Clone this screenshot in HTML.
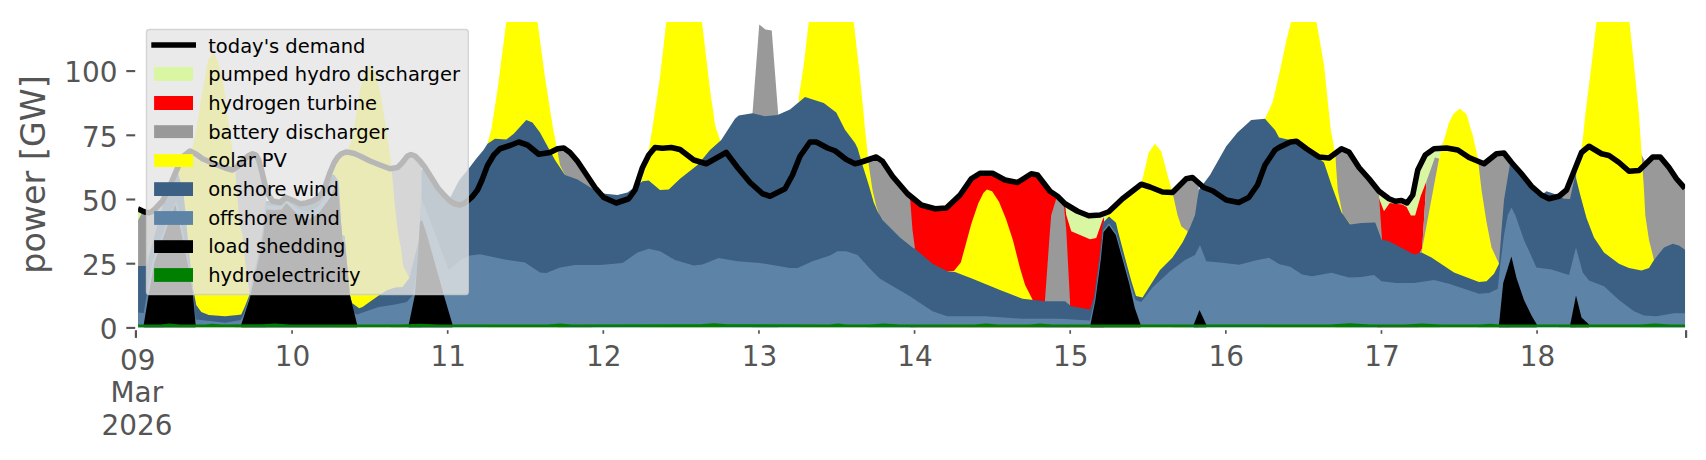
<!DOCTYPE html>
<html lang="en">
<head>
<meta charset="utf-8">
<title>power dispatch</title>
<style>
html,body{margin:0;padding:0;background:#ffffff;}
body{width:1706px;height:460px;overflow:hidden;}
svg{display:block;}
text{font-family:"DejaVu Sans","Liberation Sans",sans-serif;}
.tk{font-size:27.9px;fill:#555555;}
.yl{font-size:33.33px;fill:#555555;}
.lg{font-size:19.5px;fill:#000000;}
</style>
</head>
<body>
<svg width="1706" height="460" viewBox="0 0 1706 460">
<defs><clipPath id="ax"><rect x="138.1" y="22.0" width="1547.0" height="307.6"/></clipPath></defs>
<rect x="0" y="0" width="1706" height="460" fill="#ffffff"/>
<g clip-path="url(#ax)">
<polygon points="137.80,208.80 142.00,210.80 142.00,213.00 142.00,327.20 137.80,327.20" fill="#d9f7a3"/>
<polygon points="1065.00,203.75 1077.50,211.25 1088.75,215.75 1100.00,215.00 1106.00,213.00 1106.00,327.20 1065.00,327.20" fill="#d9f7a3"/>
<polygon points="1377.00,190.00 1379.00,191.25 1389.00,198.75 1395.25,201.25 1401.50,200.50 1407.00,203.00 1412.75,195.00 1417.75,170.00 1425.25,155.00 1434.00,148.75 1439.00,148.50 1444.00,140.00 1439.00,158.75 1439.00,327.20 1377.00,327.20" fill="#d9f7a3"/>
<polygon points="910.00,197.50 921.25,205.00 935.00,208.75 946.25,208.00 960.00,195.00 971.25,178.75 980.00,173.25 992.50,173.25 1005.00,180.00 1017.50,182.50 1031.25,173.75 1037.50,175.00 1050.00,191.25 1057.50,196.25 1065.00,203.75 1066.25,215.00 1071.25,231.25 1090.00,239.25 1096.25,238.00 1102.50,220.00 1104.00,217.00 1104.00,327.20 910.00,327.20" fill="#ff0000"/>
<polygon points="1377.00,195.00 1378.50,197.00 1384.00,211.30 1389.70,203.00 1395.25,203.75 1402.40,204.50 1406.60,207.00 1410.90,215.50 1415.10,215.50 1420.80,195.80 1426.40,181.60 1422.20,248.00 1419.40,253.70 1419.40,327.20 1377.00,327.20" fill="#ff0000"/>
<polygon points="137.80,220.50 141.90,213.20 146.00,212.30 149.00,212.80 152.00,211.50 155.00,209.00 162.50,201.00 163.40,200.00 163.40,327.20 137.80,327.20" fill="#999999"/>
<polygon points="235.00,169.00 237.00,167.00 242.50,161.00 248.00,156.00 252.50,153.75 256.00,155.00 258.75,160.00 262.00,172.00 265.00,185.00 266.00,196.00 266.00,327.20 235.00,327.20" fill="#999999"/>
<polygon points="391.00,168.50 397.50,167.50 402.00,163.00 407.50,156.00 411.00,154.50 415.00,156.00 420.00,161.00 421.25,163.00 421.25,327.20 391.00,327.20" fill="#999999"/>
<polygon points="557.50,148.75 563.75,148.00 570.00,152.50 577.50,161.25 585.00,172.50 592.50,186.00 592.50,327.20 557.50,327.20" fill="#999999"/>
<polygon points="752.50,113.00 759.25,24.50 765.50,29.50 771.75,30.50 778.25,115.00 778.25,327.20 752.50,327.20" fill="#999999"/>
<polygon points="867.50,159.50 876.25,157.00 882.50,161.25 892.50,176.25 907.50,193.75 910.00,197.50 912.50,230.00 915.00,248.75 915.00,327.20 867.50,327.20" fill="#999999"/>
<polygon points="1045.00,300.00 1050.00,230.00 1051.25,215.00 1056.25,198.75 1057.50,196.25 1063.75,203.00 1066.25,229.75 1070.00,301.25 1070.00,327.20 1045.00,327.20" fill="#999999"/>
<polygon points="1172.50,192.50 1186.25,178.75 1192.50,177.50 1198.75,184.00 1198.75,327.20 1172.50,327.20" fill="#999999"/>
<polygon points="1335.25,153.50 1341.50,148.75 1349.00,152.00 1359.00,167.50 1369.00,178.75 1376.50,188.50 1379.00,195.00 1382.00,239.50 1382.00,327.20 1335.25,327.20" fill="#999999"/>
<polygon points="1419.40,253.70 1422.20,248.00 1426.40,181.60 1434.90,157.60 1440.50,159.00 1440.50,327.20 1419.40,327.20" fill="#999999"/>
<polygon points="1477.75,161.00 1484.00,163.75 1496.50,153.75 1504.00,153.00 1510.25,161.50 1510.25,327.20 1477.75,327.20" fill="#999999"/>
<polygon points="1559.00,196.25 1566.50,190.00 1574.00,171.25 1576.50,168.00 1576.50,327.20 1559.00,327.20" fill="#999999"/>
<polygon points="1640.25,152.50 1646.50,164.00 1652.75,157.00 1660.25,157.00 1669.00,167.50 1676.50,178.75 1685.00,188.30 1685.30,188.50 1685.30,327.20 1640.25,327.20" fill="#999999"/>
<polygon points="177.00,200.00 177.00,168.00 179.00,165.00 183.75,156.00 190.00,151.00 192.50,147.50 196.25,129.75 202.50,90.00 206.50,68.00 208.50,58.75 213.60,53.20 216.00,56.25 219.75,67.50 223.50,85.00 228.75,125.00 231.00,140.00 235.30,171.00 239.40,222.60 242.50,235.00 245.60,266.00 249.80,295.00 249.80,327.20 177.00,327.20" fill="#ffff00"/>
<polygon points="332.50,200.00 332.50,173.75 337.50,160.00 346.25,152.50 352.00,140.00 353.75,129.75 360.00,90.00 365.00,72.50 370.00,63.75 376.25,75.00 381.25,97.50 386.25,129.75 389.40,150.00 391.25,165.00 395.00,207.00 398.40,235.00 401.25,250.00 403.10,266.25 409.40,278.10 409.40,327.20 332.50,327.20" fill="#ffff00"/>
<polygon points="487.50,143.75 491.25,129.75 497.50,90.00 506.25,22.00 537.50,22.00 545.00,77.50 552.50,125.00 556.25,145.00 560.00,165.00 565.00,175.00 565.00,327.20 487.50,327.20" fill="#ffff00"/>
<polygon points="641.25,181.25 646.25,165.00 652.50,127.50 660.00,77.50 666.25,22.00 702.00,22.00 710.00,90.00 713.75,115.00 715.00,125.00 720.00,140.00 720.00,327.20 641.25,327.20" fill="#ffff00"/>
<polygon points="798.75,97.50 803.75,65.00 808.75,22.00 853.75,22.00 860.00,77.50 863.75,115.00 865.00,129.75 866.25,140.00 868.75,165.00 872.50,190.00 876.25,206.25 878.75,213.75 878.75,327.20 798.75,327.20" fill="#ffff00"/>
<polygon points="947.50,271.25 953.90,271.00 960.80,262.50 966.00,243.40 971.20,224.30 978.20,203.40 983.40,193.00 986.90,189.50 992.10,191.30 999.00,201.70 1006.00,219.10 1012.90,239.90 1019.90,267.70 1025.10,285.10 1032.50,299.50 1032.50,327.20 947.50,327.20" fill="#ffff00"/>
<polygon points="1106.00,214.00 1108.75,211.75 1122.50,198.75 1141.25,184.25 1148.75,152.50 1155.00,143.75 1161.25,151.25 1167.50,175.00 1172.50,192.50 1177.50,215.00 1181.25,226.25 1187.50,231.25 1187.50,327.20 1106.00,327.20" fill="#ffff00"/>
<polygon points="1265.00,118.75 1272.50,102.50 1279.00,75.00 1286.50,40.00 1291.00,22.00 1316.50,22.00 1324.00,65.00 1330.75,129.75 1332.75,140.00 1335.25,155.00 1337.75,190.00 1342.75,215.00 1350.25,223.75 1350.25,327.20 1265.00,327.20" fill="#ffff00"/>
<polygon points="1421.50,252.50 1439.00,158.75 1444.00,140.00 1449.00,122.50 1453.25,114.25 1459.75,108.50 1466.50,114.25 1471.00,129.75 1472.75,135.00 1477.75,157.50 1481.50,190.00 1486.50,222.00 1491.50,247.50 1499.00,263.75 1499.00,327.20 1421.50,327.20" fill="#ffff00"/>
<polygon points="1576.50,175.00 1582.75,140.00 1585.25,115.00 1591.50,65.00 1596.50,22.00 1629.50,22.00 1634.00,65.00 1639.00,115.00 1641.50,152.50 1644.00,190.00 1645.25,215.00 1649.00,240.00 1654.00,260.00 1654.00,327.20 1576.50,327.20" fill="#ffff00"/>
<polygon points="138.00,266.00 146.40,265.90 158.70,220.00 163.40,202.50 169.00,188.00 175.00,173.75 177.00,169.00 180.00,180.00 183.70,195.00 185.30,210.00 186.70,226.40 190.50,265.90 193.30,290.00 194.40,295.00 196.25,305.00 201.25,311.90 208.75,315.00 225.00,316.25 237.50,315.00 241.25,314.40 245.00,306.25 249.40,295.00 256.00,265.00 262.10,235.00 266.00,201.00 272.50,201.00 280.00,202.50 286.00,197.50 292.00,200.00 300.00,203.75 306.00,203.00 312.50,201.00 318.00,198.00 322.50,192.50 326.00,184.00 330.00,174.00 334.40,175.00 338.50,181.00 340.00,200.00 341.60,234.80 344.70,236.00 349.90,294.90 352.00,303.00 359.20,308.30 362.50,307.00 378.75,295.60 386.25,290.60 395.00,287.50 402.50,286.90 409.40,278.10 415.00,255.00 419.00,240.00 421.25,200.00 421.25,170.00 425.00,167.50 431.00,177.00 437.50,187.50 444.00,195.00 448.50,201.00 453.00,192.00 459.00,180.40 469.00,168.30 476.00,159.00 483.50,150.00 487.50,143.75 495.00,138.75 506.25,139.50 513.75,133.75 526.25,120.00 532.50,122.50 540.00,132.50 555.00,160.00 565.00,175.00 577.50,179.50 592.50,188.75 605.00,193.75 617.50,195.00 627.50,192.50 642.50,181.25 648.75,180.50 660.00,190.00 668.75,189.50 680.00,178.75 697.50,165.00 710.00,150.00 721.25,140.00 735.00,118.75 738.75,115.50 752.50,113.25 765.00,116.25 777.50,115.00 790.00,109.50 805.00,97.00 823.75,103.00 836.25,112.50 845.00,129.75 855.00,143.00 857.50,148.00 862.50,165.00 868.75,185.00 873.75,202.50 877.50,211.25 882.50,220.00 900.00,237.50 912.50,247.50 915.00,248.75 932.50,263.75 947.50,271.25 955.00,272.00 972.50,278.75 1000.00,290.00 1022.50,298.75 1045.00,301.25 1065.00,301.25 1071.25,306.25 1090.00,309.50 1094.00,297.00 1099.50,257.00 1102.00,232.00 1103.00,222.80 1109.00,216.50 1116.00,222.80 1118.20,232.00 1124.80,257.00 1131.30,281.00 1136.00,296.00 1142.50,297.50 1160.00,270.00 1172.50,257.50 1182.50,242.50 1190.00,227.50 1195.00,215.00 1198.75,190.00 1210.00,175.00 1226.25,146.25 1237.50,132.50 1251.25,120.00 1265.00,118.75 1275.00,130.00 1279.00,137.50 1290.00,140.00 1304.00,148.75 1316.50,156.25 1324.00,162.50 1331.50,185.00 1341.50,212.50 1350.25,224.50 1361.50,223.00 1375.25,222.50 1381.50,239.50 1389.00,241.25 1414.00,254.50 1421.50,252.50 1431.50,257.50 1454.00,272.50 1479.00,282.00 1486.50,281.25 1494.00,273.75 1499.00,263.75 1501.50,230.00 1504.00,200.00 1507.75,177.50 1510.25,162.50 1511.50,162.50 1521.50,173.75 1531.50,186.25 1541.50,195.00 1546.50,191.25 1554.00,193.75 1564.00,198.75 1570.00,199.00 1575.25,175.00 1580.25,195.00 1586.50,218.00 1594.00,237.50 1604.00,252.50 1619.00,263.75 1629.00,268.00 1641.50,270.50 1649.00,268.00 1654.00,260.00 1664.00,247.50 1672.75,243.75 1679.00,245.50 1685.30,250.00 1685.30,327.20 138.00,327.20" fill="#3b6083"/>
<polygon points="138.00,312.50 143.75,313.00 146.80,294.00 152.20,262.00 165.00,228.00 175.30,202.00 176.80,202.50 183.00,232.00 189.30,265.90 193.00,288.00 195.60,319.40 212.50,321.25 225.00,322.75 240.60,320.00 243.00,316.00 250.00,295.00 258.00,260.00 262.50,240.00 264.50,223.00 266.40,204.80 274.00,206.00 281.70,206.00 286.20,200.50 291.50,204.30 296.90,208.70 307.50,212.00 318.20,206.80 324.00,198.40 330.40,186.00 334.00,181.00 337.20,181.00 339.50,203.00 342.50,238.00 345.00,241.00 349.90,300.00 350.50,311.40 357.10,314.50 377.80,307.30 396.40,304.20 406.70,302.10 412.90,294.90 417.00,270.00 420.50,235.00 421.00,197.00 448.75,270.00 462.50,258.75 470.00,255.50 480.00,254.20 505.00,259.50 525.00,262.50 540.00,272.50 546.25,273.00 560.00,267.50 575.00,265.00 600.00,265.00 622.50,263.00 637.50,252.50 648.75,248.75 660.00,251.25 675.00,260.00 693.75,265.50 702.50,264.50 718.75,258.00 737.50,261.25 760.00,263.00 790.00,268.00 797.50,268.00 812.50,261.25 830.00,255.50 837.50,251.25 846.25,251.25 857.50,255.00 870.00,268.75 880.00,278.75 910.00,296.25 932.50,311.25 947.50,316.25 985.00,316.25 1022.50,318.75 1060.00,318.75 1090.00,320.50 1094.80,299.00 1100.20,258.00 1102.80,231.00 1109.00,223.30 1116.30,233.50 1123.20,258.00 1130.00,282.50 1135.50,300.00 1141.25,302.00 1152.50,287.50 1170.00,271.25 1185.00,260.00 1195.00,255.00 1200.00,245.00 1206.25,261.25 1222.50,262.70 1238.90,264.70 1254.40,260.70 1268.80,257.80 1279.50,264.30 1290.30,266.70 1302.20,274.50 1311.80,276.20 1331.50,272.80 1349.00,277.50 1361.50,277.00 1374.00,275.00 1381.50,281.25 1396.50,283.00 1414.00,283.00 1434.00,280.00 1449.00,283.75 1464.00,288.75 1479.00,293.75 1489.00,293.00 1497.75,288.75 1500.25,265.00 1504.00,235.00 1507.75,215.00 1511.50,207.50 1515.25,215.00 1524.00,240.00 1536.50,267.50 1551.50,269.50 1569.00,275.00 1576.00,247.50 1582.75,272.50 1589.00,280.50 1604.00,286.25 1619.00,300.00 1634.00,311.25 1644.00,315.50 1656.50,316.25 1674.00,313.25 1685.30,313.25 1685.30,327.20 138.00,327.20" fill="#5d83a6"/>
<polygon points="143.75,324.50 148.60,295.00 154.50,262.00 175.30,204.40 181.80,235.00 188.20,265.90 192.70,292.00 195.60,324.50 195.60,327.20 143.75,327.20" fill="#000000"/>
<polygon points="241.25,324.50 250.00,297.50 258.00,262.00 262.50,242.00 264.50,225.00 266.40,209.60 274.00,210.00 281.70,209.60 286.20,203.00 291.50,208.00 296.90,214.00 307.50,220.00 318.20,214.00 324.00,206.00 330.40,197.40 337.20,182.00 339.50,205.00 342.50,240.00 345.00,243.00 349.90,294.90 357.10,324.50 357.10,327.20 241.25,327.20" fill="#000000"/>
<polygon points="408.75,324.50 414.90,294.90 418.00,255.00 420.00,222.00 422.00,220.00 427.00,235.00 443.80,294.90 452.50,324.50 452.50,327.20 408.75,327.20" fill="#000000"/>
<polygon points="1090.50,324.50 1095.40,300.00 1100.80,259.30 1103.50,232.00 1109.00,225.40 1115.80,234.90 1122.60,259.30 1129.30,283.80 1134.80,308.00 1140.50,324.50 1140.50,327.20 1090.50,327.20" fill="#000000"/>
<polygon points="1193.75,324.50 1199.50,310.00 1206.25,324.50 1206.25,327.20 1193.75,327.20" fill="#000000"/>
<polygon points="1499.00,324.50 1503.20,283.00 1511.40,256.60 1516.50,278.00 1524.00,300.00 1531.50,315.50 1536.80,324.50 1536.80,327.20 1499.00,327.20" fill="#000000"/>
<polygon points="1570.25,324.50 1576.00,295.50 1581.50,317.50 1589.00,324.50 1589.00,327.20 1570.25,327.20" fill="#000000"/>
<polygon points="138.10,324.60 160.00,324.60 170.00,323.60 180.00,324.60 205.00,324.60 212.00,323.70 222.00,324.60 262.00,324.20 275.00,323.60 290.00,324.60 400.00,324.60 420.00,323.70 440.00,324.60 548.00,324.60 560.00,323.60 572.00,324.60 700.00,324.20 714.00,323.20 728.00,324.20 830.00,324.60 838.00,323.60 846.00,324.60 870.00,324.60 884.00,323.40 900.00,324.60 975.00,324.60 986.00,323.50 998.00,324.60 1030.00,324.60 1040.00,323.60 1052.00,324.60 1330.00,324.60 1350.00,323.20 1370.00,324.60 1405.00,324.60 1422.00,323.60 1440.00,324.60 1480.00,324.60 1490.00,323.70 1500.00,324.60 1640.00,324.60 1655.00,323.50 1670.00,324.60 1685.10,324.60 1685.10,327.00 138.10,327.00" fill="#008000"/>
<polyline points="137.80,208.80 142.00,210.80 146.00,212.30 149.00,212.80 152.00,211.50 155.00,209.00 162.50,201.00 169.00,188.00 175.00,173.75 179.00,165.00 183.75,156.00 190.00,151.00 196.00,154.00 202.50,158.75 210.00,162.00 217.50,165.00 225.00,168.00 232.50,170.00 237.00,167.00 242.50,161.00 248.00,156.00 252.50,153.75 256.00,155.00 258.75,160.00 262.00,172.00 265.00,185.00 268.00,194.00 272.50,201.00 280.00,202.50 286.00,197.50 292.00,200.00 300.00,203.75 306.00,203.00 312.50,201.00 318.00,198.00 322.50,192.50 326.00,184.00 330.00,172.50 334.00,163.00 337.50,157.50 341.00,154.00 346.00,152.00 350.00,152.50 355.00,153.75 362.00,157.00 370.00,161.00 380.00,165.00 390.00,168.75 397.50,167.50 402.00,163.00 407.50,156.00 411.00,154.50 415.00,156.00 420.00,161.00 425.00,167.50 431.00,177.00 437.50,187.50 444.00,195.00 450.00,201.00 455.00,204.00 460.00,205.00 464.00,203.50 467.50,201.00 472.00,197.00 477.50,190.00 482.00,180.00 487.50,165.50 493.75,155.00 500.00,148.75 510.00,145.50 518.75,142.00 527.50,145.00 538.75,154.25 550.00,152.50 557.50,148.75 563.75,148.00 570.00,152.50 577.50,161.25 585.00,172.50 595.00,187.50 603.75,197.50 616.25,203.00 628.75,198.75 635.00,190.00 642.50,167.50 648.75,155.00 655.00,147.50 662.50,148.25 671.25,147.50 680.00,149.50 693.75,160.00 706.25,163.75 726.25,152.50 737.50,167.50 750.00,182.50 762.50,193.75 770.00,196.25 785.00,188.75 792.50,175.00 800.00,156.25 810.00,142.00 816.25,142.00 827.50,148.00 835.00,150.75 846.25,159.50 855.00,163.75 860.00,162.50 876.25,157.00 882.50,161.25 892.50,176.25 907.50,193.75 921.25,205.00 935.00,208.75 946.25,208.00 960.00,195.00 971.25,178.75 980.00,173.25 992.50,173.25 1005.00,180.00 1017.50,182.50 1031.25,173.75 1037.50,175.00 1050.00,191.25 1057.50,196.25 1065.00,203.75 1077.50,211.25 1088.75,215.75 1100.00,215.00 1108.75,211.75 1122.50,198.75 1141.25,184.25 1150.00,187.00 1162.50,192.00 1172.50,192.50 1186.25,178.75 1192.50,177.50 1203.75,187.50 1212.50,190.75 1226.25,200.00 1238.75,202.50 1248.75,197.50 1257.50,185.00 1265.00,165.00 1275.00,150.00 1279.00,147.50 1290.25,142.00 1296.50,141.25 1306.50,148.75 1319.00,157.00 1329.00,158.00 1341.50,148.75 1349.00,152.00 1359.00,167.50 1369.00,178.75 1379.00,191.25 1389.00,198.75 1395.25,201.25 1401.50,200.50 1407.00,203.00 1412.75,195.00 1417.75,170.00 1425.25,155.00 1434.00,148.75 1446.50,148.00 1457.75,150.00 1469.00,157.50 1484.00,163.75 1496.50,153.75 1504.00,153.00 1511.50,162.50 1521.50,173.75 1531.50,186.25 1541.50,195.00 1549.00,198.75 1559.00,196.25 1566.50,190.00 1574.00,171.25 1581.50,152.50 1589.00,146.25 1601.50,153.75 1609.00,155.50 1619.00,162.50 1629.00,171.25 1639.00,170.50 1652.75,157.00 1660.25,157.00 1669.00,167.50 1676.50,178.75 1685.00,188.30" fill="none" stroke="#000" stroke-width="5.56" stroke-linejoin="round" stroke-linecap="butt"/>
</g>
<line x1="126.3" y1="327.90" x2="135.2" y2="327.90" stroke="#555555" stroke-width="2.1"/>
<text x="117.6" y="339.20" text-anchor="end" class="tk">0</text>
<line x1="126.3" y1="263.70" x2="135.2" y2="263.70" stroke="#555555" stroke-width="2.1"/>
<text x="117.6" y="275.00" text-anchor="end" class="tk">25</text>
<line x1="126.3" y1="199.50" x2="135.2" y2="199.50" stroke="#555555" stroke-width="2.1"/>
<text x="117.6" y="210.80" text-anchor="end" class="tk">50</text>
<line x1="126.3" y1="135.30" x2="135.2" y2="135.30" stroke="#555555" stroke-width="2.1"/>
<text x="117.6" y="146.60" text-anchor="end" class="tk">75</text>
<line x1="126.3" y1="71.10" x2="135.2" y2="71.10" stroke="#555555" stroke-width="2.1"/>
<text x="117.6" y="82.40" text-anchor="end" class="tk">100</text>
<line x1="135.90" y1="330.2" x2="135.90" y2="337.9" stroke="#555555" stroke-width="2.2"/>
<line x1="292.05" y1="330.2" x2="292.05" y2="333.8" stroke="#555555" stroke-width="1.7"/>
<text x="292.55" y="365.9" text-anchor="middle" class="tk">10</text>
<line x1="447.68" y1="330.2" x2="447.68" y2="333.8" stroke="#555555" stroke-width="1.7"/>
<text x="448.18" y="365.9" text-anchor="middle" class="tk">11</text>
<line x1="603.31" y1="330.2" x2="603.31" y2="333.8" stroke="#555555" stroke-width="1.7"/>
<text x="603.81" y="365.9" text-anchor="middle" class="tk">12</text>
<line x1="758.94" y1="330.2" x2="758.94" y2="333.8" stroke="#555555" stroke-width="1.7"/>
<text x="759.44" y="365.9" text-anchor="middle" class="tk">13</text>
<line x1="914.57" y1="330.2" x2="914.57" y2="333.8" stroke="#555555" stroke-width="1.7"/>
<text x="915.07" y="365.9" text-anchor="middle" class="tk">14</text>
<line x1="1070.20" y1="330.2" x2="1070.20" y2="333.8" stroke="#555555" stroke-width="1.7"/>
<text x="1070.70" y="365.9" text-anchor="middle" class="tk">15</text>
<line x1="1225.83" y1="330.2" x2="1225.83" y2="333.8" stroke="#555555" stroke-width="1.7"/>
<text x="1226.33" y="365.9" text-anchor="middle" class="tk">16</text>
<line x1="1381.46" y1="330.2" x2="1381.46" y2="333.8" stroke="#555555" stroke-width="1.7"/>
<text x="1381.96" y="365.9" text-anchor="middle" class="tk">17</text>
<line x1="1537.09" y1="330.2" x2="1537.09" y2="333.8" stroke="#555555" stroke-width="1.7"/>
<text x="1537.59" y="365.9" text-anchor="middle" class="tk">18</text>
<line x1="1686.10" y1="330.2" x2="1686.10" y2="337.9" stroke="#555555" stroke-width="2.2"/>
<text x="137.7" y="369.8" text-anchor="middle" class="tk">09</text>
<text x="136.8" y="402.3" text-anchor="middle" class="tk">Mar</text>
<text x="136.9" y="434.6" text-anchor="middle" class="tk">2026</text>
<text transform="translate(44.6,174.5) rotate(-90)" text-anchor="middle" class="yl">power [GW]</text>
<rect x="146.5" y="29.5" width="321.8" height="265" rx="2.8" ry="2.8" fill="#e5e5e5" fill-opacity="0.8" stroke="#cccccc" stroke-opacity="0.8" stroke-width="1.4"/>
<line x1="151.3" y1="45.00" x2="196" y2="45.00" stroke="#000" stroke-width="5.56"/>
<text x="208.2" y="52.50" class="lg">today's demand</text>
<rect x="154.1" y="67.00" width="38.9" height="14.00" fill="#d9f7a3"/>
<text x="208.2" y="81.18" class="lg">pumped hydro discharger</text>
<rect x="154.1" y="96.00" width="38.9" height="14.00" fill="#ff0000"/>
<text x="208.2" y="109.86" class="lg">hydrogen turbine</text>
<rect x="154.1" y="125.20" width="38.9" height="12.90" fill="#999999"/>
<text x="208.2" y="138.54" class="lg">battery discharger</text>
<rect x="154.1" y="154.10" width="38.9" height="12.90" fill="#ffff00"/>
<text x="208.2" y="167.22" class="lg">solar PV</text>
<rect x="154.1" y="182.20" width="38.9" height="13.80" fill="#3b6083"/>
<text x="208.2" y="195.90" class="lg">onshore wind</text>
<rect x="154.1" y="211.10" width="38.9" height="13.80" fill="#5d83a6"/>
<text x="208.2" y="224.58" class="lg">offshore wind</text>
<rect x="154.1" y="240.20" width="38.9" height="12.80" fill="#000000"/>
<text x="208.2" y="253.26" class="lg">load shedding</text>
<rect x="154.1" y="268.10" width="38.9" height="13.80" fill="#008000"/>
<text x="208.2" y="281.94" class="lg">hydroelectricity</text>
</svg>
</body>
</html>
